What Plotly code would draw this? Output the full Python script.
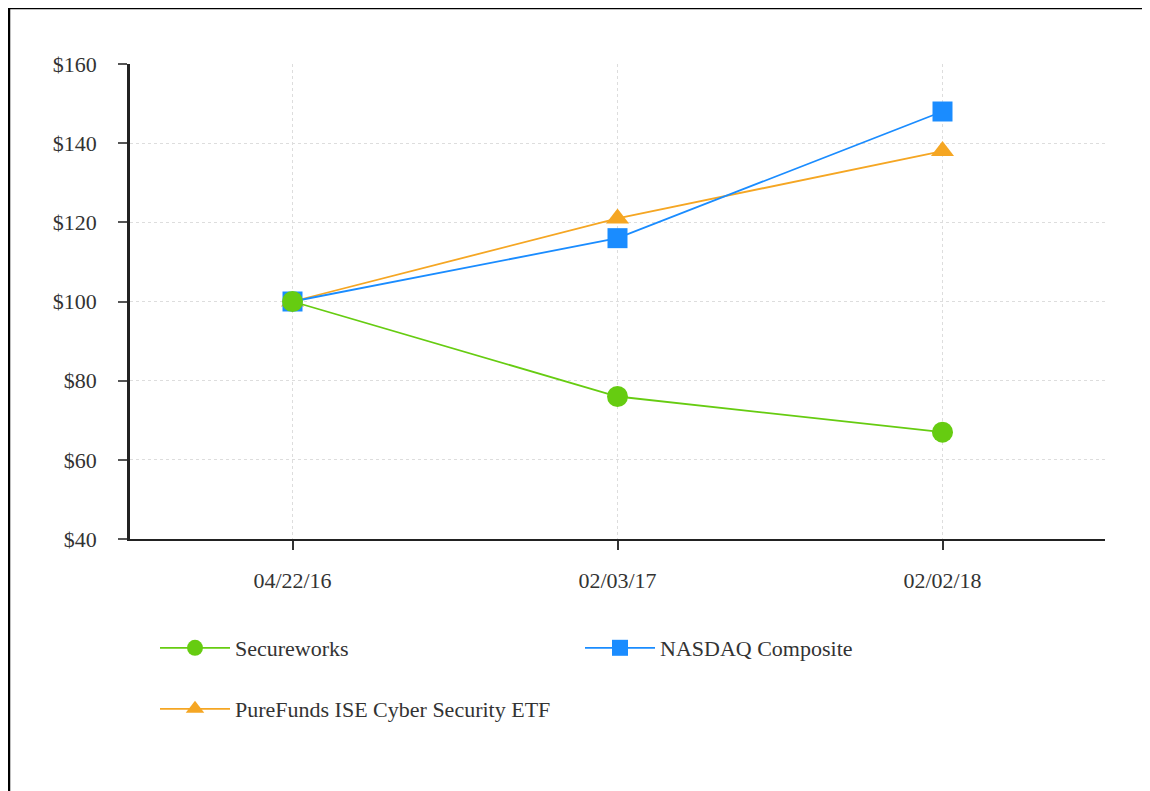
import plotly.graph_objects as go

dates = ["04/22/16", "02/03/17", "02/02/18"]
secureworks = [100, 76, 67]
nasdaq = [100, 116, 148]
purefunds = [100, 121, 138]
y_ticks = [40, 60, 80, 100, 120, 140, 160]
y_tick_labels = ["$40", "$60", "$80", "$100", "$120", "$140", "$160"]

GREEN = "#66cc11"
BLUE = "#1a8cff"
ORANGE = "#f5a623"
FONT = "Liberation Serif"

fig = go.Figure()
fig.add_trace(go.Scatter(
    x=dates, y=purefunds, name="PureFunds ISE Cyber Security ETF",
    mode="lines+markers", line=dict(color=ORANGE, width=1.8),
    marker=dict(symbol="triangle-up", size=20, color=ORANGE),
    legend="legend2"))
fig.add_trace(go.Scatter(
    x=dates, y=nasdaq, name="NASDAQ Composite",
    mode="lines+markers", line=dict(color=BLUE, width=1.8),
    marker=dict(symbol="square", size=20, color=BLUE),
    legendrank=2))
fig.add_trace(go.Scatter(
    x=dates, y=secureworks, name="Secureworks",
    mode="lines+markers", line=dict(color=GREEN, width=1.8),
    marker=dict(symbol="circle", size=21, color=GREEN),
    legendrank=1))

# the page is rendered with an 8px body offset; target pixel positions below
# are expressed in figure coordinates (reference px - 8)
OFF = 8
W, H = 1150, 791
L, R, T, B = 130 - OFF, 53, 64 - OFF, 260
pw, ph = W - L - R, H - T - B

def px2x(px):
    return (px - OFF - L) / pw

def py2y(py):
    return (H - B - (py - OFF)) / ph

# outer frame (left and top edges)
fig.add_shape(type="line", xref="paper", yref="paper",
              x0=px2x(9), x1=px2x(9), y0=py2y(H + 20), y1=py2y(8),
              line=dict(color="black", width=2.5))
fig.add_shape(type="line", xref="paper", yref="paper",
              x0=px2x(8), x1=px2x(W + 20), y0=py2y(8), y1=py2y(8),
              line=dict(color="black", width=2.5))

fig.update_layout(
    width=W, height=H,
    margin=dict(l=L, r=R, t=T, b=B),
    paper_bgcolor="white", plot_bgcolor="white",
    font=dict(family=FONT, size=22, color="#333333"),
    legend=dict(orientation="h", x=px2x(155), y=py2y(627),
                xanchor="left", yanchor="top",
                itemwidth=70,
                entrywidth=340, entrywidthmode="pixels",
                font=dict(family=FONT, size=22, color="#333333"),
                bgcolor="rgba(0,0,0,0)", traceorder="normal"),
    legend2=dict(orientation="h", x=px2x(155), y=py2y(688),
                 xanchor="left", yanchor="top",
                 itemwidth=70,
                 font=dict(family=FONT, size=22, color="#333333"),
                 bgcolor="rgba(0,0,0,0)"),
    xaxis=dict(type="category", range=[-0.5, 2.5],
               showgrid=True, gridcolor="#dddddd", griddash="dot", gridwidth=1,
               showline=True, linecolor="#222222", linewidth=2,
               ticks="outside", ticklen=9, tickcolor="#333333", tickwidth=1.5,
               ticklabelstandoff=12, zeroline=False,
               tickfont=dict(family=FONT, size=22, color="#333333")),
    yaxis=dict(range=[40, 160], tickvals=y_ticks, ticktext=y_tick_labels,
               showgrid=True, gridcolor="#dddddd", griddash="dot", gridwidth=1,
               showline=True, linecolor="#222222", linewidth=2.5,
               ticks="outside", ticklen=9, tickcolor="#555555", tickwidth=1.5,
               ticklabelstandoff=17, zeroline=False,
               tickfont=dict(family=FONT, size=22, color="#333333")),
)

fig.write_html("out.html")
